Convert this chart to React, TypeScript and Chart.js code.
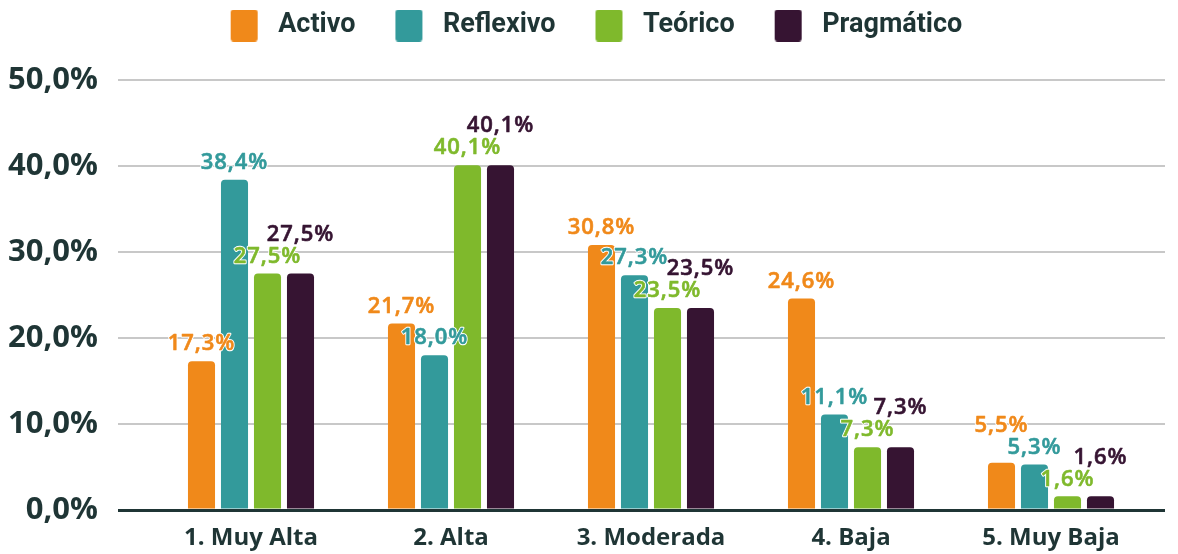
import React, { useEffect, useRef } from 'react';
import { Chart, registerables } from 'chart.js';

Chart.register(...registerables);

const categories = ['1. Muy Alta', '2. Alta', '3. Moderada', '4. Baja', '5. Muy Baja'];
const seriesNames = ['Activo', 'Reflexivo', 'Teórico', 'Pragmático'];
const activo = [17.3, 21.7, 30.8, 24.6, 5.5];
const reflexivo = [38.4, 18.0, 27.3, 11.1, 5.3];
const teorico = [27.5, 40.1, 23.5, 7.3, 1.6];
const pragmatico = [27.5, 40.1, 23.5, 7.3, 1.6];
const seriesColors = ['#F0891A', '#339A9B', '#7FB92C', '#361432'];
const yMin = 0;
const yMax = 50;
const yStep = 10;

const DARK = '#1F3535';
const GRID = '#C8C8C8';

const fmt = (v: number) => v.toFixed(1).replace('.', ',') + '%';

function makeSwatch(color: string): HTMLCanvasElement {
  const c = document.createElement('canvas');
  c.width = 62;
  c.height = 32;
  const g = c.getContext('2d')!;
  g.fillStyle = color;
  g.beginPath();
  (g as any).roundRect(28, 0, 27, 32, 3);
  g.fill();
  return c;
}

const labelPlugin = {
  id: 'barLabels',
  afterDatasetsDraw(chart: any) {
    const ctx = chart.ctx as CanvasRenderingContext2D;
    const ds = chart.data.datasets;
    const n = chart.data.labels.length;
    ctx.save();
    ctx.font = '600 22px "Open Sans"';
    (ctx as any).letterSpacing = '1px';
    ctx.textAlign = 'center';
    ctx.textBaseline = 'middle';
    ctx.lineJoin = 'round';
    for (let j = 0; j < n; j++) {
      const items = ds.map((d: any, i: number) => {
        const bar = chart.getDatasetMeta(i).data[j];
        return { x: bar.x, y: bar.y - 17, v: d.data[j] as number, color: seriesColors[i] };
      });
      for (let i = 1; i < items.length; i++) {
        const a = items[i - 1];
        const b = items[i];
        if (Math.abs(a.y - b.y) < 21) {
          if (b.v < a.v) a.y = b.y - 22;
          else b.y = a.y - 22;
        }
      }
      items.forEach((it: any) => {
        const t = fmt(it.v);
        ctx.lineWidth = 2.5;
        ctx.strokeStyle = '#FFFFFF';
        ctx.strokeText(t, it.x, it.y);
        ctx.fillStyle = it.color;
        ctx.fillText(t, it.x, it.y);
        ctx.lineWidth = 0.6;
        ctx.strokeStyle = it.color;
        ctx.strokeText(t, it.x, it.y);
      });
    }
    ctx.restore();
  },
};

export default function App() {
  const ref = useRef<HTMLCanvasElement | null>(null);

  useEffect(() => {
    if (!ref.current) return;
    const values = [activo, reflexivo, teorico, pragmatico];
    const swatches = seriesColors.map(makeSwatch);
    const gridColor = (c: any) => (c.tick && c.tick.value === 0 ? DARK : GRID);
    const gridWidth = (c: any) => (c.tick && c.tick.value === 0 ? 3 : 2);

    const chart = new Chart(ref.current, {
      type: 'bar',
      data: {
        labels: categories,
        datasets: seriesNames.map((name, i) => ({
          label: name,
          data: values[i],
          backgroundColor: seriesColors[i],
          borderRadius: 4,
          borderSkipped: 'start',
          barPercentage: 0.82,
          categoryPercentage: 0.66,
          xAxisID: 'x',
          yAxisID: 'y',
        })),
      },
      options: {
        animation: false,
        responsive: true,
        maintainAspectRatio: false,
        layout: { padding: { left: 0, right: 13, top: 0, bottom: 0 } },
        plugins: {
          tooltip: { enabled: false },
          legend: {
            position: 'top',
            align: 'center',
            labels: {
              usePointStyle: true,
              pointStyleWidth: 62,
              padding: 12,
              color: DARK,
              font: { family: 'Roboto', size: 27, weight: 'bold' },
              generateLabels: () =>
                seriesNames.map((name, i) => ({
                  text: name,
                  fillStyle: seriesColors[i],
                  strokeStyle: 'rgba(0,0,0,0)',
                  lineWidth: 0,
                  pointStyle: swatches[i],
                  hidden: false,
                  datasetIndex: i,
                  fontColor: DARK,
                })),
            },
          },
        },
        scales: {
          x: {
            grid: { display: false, drawTicks: false },
            border: { display: false },
            ticks: {
              color: DARK,
              font: { family: '"Open Sans"', size: 24, weight: 'bold' },
              padding: 14,
              maxRotation: 0,
              autoSkip: false,
            },
            afterFit: (s: any) => { s.height = 44; },
          },
          xTop: {
            type: 'category',
            position: 'top',
            grid: { display: false, drawTicks: false },
            border: { display: false },
            ticks: { display: false },
            afterFit: (s: any) => { s.height = 31; },
          },
          y: {
            min: yMin,
            max: yMax,
            ticks: {
              stepSize: yStep,
              padding: 20,
              color: DARK,
              font: { family: '"Open Sans"', size: 31, weight: 'bold' },
              callback: (v: any) => fmt(Number(v)),
            },
            grid: { color: gridColor, lineWidth: gridWidth, drawTicks: true, tickLength: 33 },
            border: { display: false },
            afterFit: (s: any) => { s.width = 151; },
          },
          yRight: {
            type: 'linear',
            position: 'right',
            min: yMin,
            max: yMax,
            ticks: { display: false, stepSize: yStep },
            grid: { color: gridColor, lineWidth: gridWidth, drawOnChartArea: false, drawTicks: true, tickLength: 14 },
            border: { display: false },
            afterFit: (s: any) => { s.width = 14; },
          },
        },
      } as any,
      plugins: [labelPlugin],
    });
    return () => chart.destroy();
  }, []);

  return (
    <div style={{ position: 'fixed', left: 0, top: 0, width: 1178, height: 554, background: '#FFFFFF' }}>
      <canvas ref={ref} />
    </div>
  );
}
